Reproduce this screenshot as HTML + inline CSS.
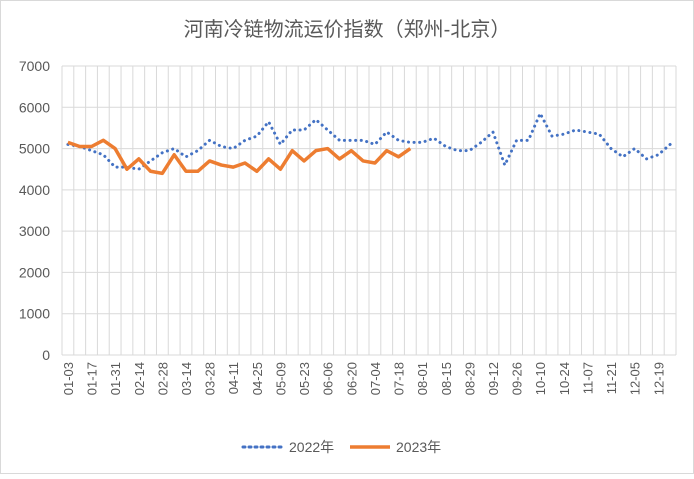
<!DOCTYPE html>
<html><head><meta charset="utf-8"><style>
body{margin:0;background:#fff;font-family:"Liberation Sans","Noto Sans CJK SC",sans-serif;}
</style></head><body>
<svg width="694" height="474" xmlns="http://www.w3.org/2000/svg" id="c">
<rect x="0.5" y="0.5" width="693" height="473" fill="#fff" stroke="#d9d9d9"/>
<text x="347" y="36" text-anchor="middle" font-size="20" fill="#595959" font-family="'Liberation Sans','Noto Sans CJK SC',sans-serif">河南冷链物流运价指数（郑州-北京）</text>
<g id="grid"></g><g id="axes"></g><g id="series"></g>
<g>
<line x1="243" y1="447" x2="283" y2="447" stroke="#4472c4" stroke-width="3" stroke-dasharray="2,4" stroke-linecap="round"/>
<text x="289" y="452" font-size="14" fill="#595959">2022年</text>
<line x1="350" y1="447" x2="390" y2="447" stroke="#ed7d31" stroke-width="3.5"/>
<text x="396" y="452" font-size="14" fill="#595959">2023年</text>
</g>
</svg>
<script>
const categories=["01-03","01-10","01-17","01-24","01-31","02-07","02-14","02-21","02-28","03-07","03-14","03-21","03-28","04-04","04-11","04-18","04-25","05-02","05-09","05-16","05-23","05-30","06-06","06-13","06-20","06-27","07-04","07-11","07-18","07-25","08-01","08-08","08-15","08-22","08-29","09-05","09-12","09-19","09-26","10-03","10-10","10-17","10-24","10-31","11-07","11-14","11-21","11-28","12-05","12-12","12-19","12-26"];
const series2022=[5100,5050,4950,4850,4550,4550,4500,4700,4900,5000,4800,4950,5200,5050,5000,5200,5300,5650,5100,5450,5450,5700,5450,5200,5200,5200,5100,5400,5200,5150,5150,5250,5050,4950,4950,5150,5400,4600,5200,5200,5850,5300,5350,5450,5400,5350,5000,4800,5000,4750,4850,5100];
const series2023=[5150,5050,5050,5200,5000,4500,4750,4450,4400,4850,4450,4450,4700,4600,4550,4650,4450,4750,4500,4950,4700,4950,5000,4750,4950,4700,4650,4950,4800,5000];
const yTicks=[0,1000,2000,3000,4000,5000,6000,7000];
const X0=62,X1=676,Y0=355,Y1=66,YMAX=7000;
const bw=(X1-X0)/categories.length;
const xs=i=>X0+bw*(i+0.5);
const ys=v=>Y0-(v/YMAX)*(Y0-Y1);
const NS="http://www.w3.org/2000/svg";
function mk(t,a,p){const e=document.createElementNS(NS,t);for(const k in a)e.setAttribute(k,a[k]);p.appendChild(e);return e;}
const grid=document.getElementById('grid'),axes=document.getElementById('axes'),ser=document.getElementById('series');
yTicks.forEach(v=>{
 const l=mk('line',{x1:X0,x2:X1,y1:ys(v),y2:ys(v),stroke:'#d9d9d9'},grid);
 
 
 const t=mk('text',{x:50,y:ys(v)+5,'text-anchor':'end','font-size':14,fill:'#595959'},axes);
 t.textContent=v;
 
 
});
for(let i=0;i<=categories.length;i++){
 const l=mk('line',{x1:X0+bw*i,x2:X0+bw*i,y1:Y1,y2:Y0,stroke:'#d9d9d9'},grid);
 
 
}
categories.forEach((c,i)=>{
 if(i%2)return;
 const x=xs(i)+5,y=362;
 const t=mk('text',{x:x,y:y,'text-anchor':'end','font-size':13,fill:'#595959',transform:`rotate(-90 ${x} ${y})`},axes);
 t.textContent=c;
 
 
});
const p1=mk('polyline',{points:series2022.map((v,i)=>xs(i)+','+ys(v)).join(' '),fill:'none',stroke:'#4472c4','stroke-width':3,'stroke-dasharray':'0.1,5.5','stroke-linecap':'round'},ser);


const p2=mk('polyline',{points:series2023.map((v,i)=>xs(i)+','+ys(v)).join(' '),fill:'none',stroke:'#ed7d31','stroke-width':3.5,'stroke-linejoin':'round'},ser);


</script>
</body></html>
